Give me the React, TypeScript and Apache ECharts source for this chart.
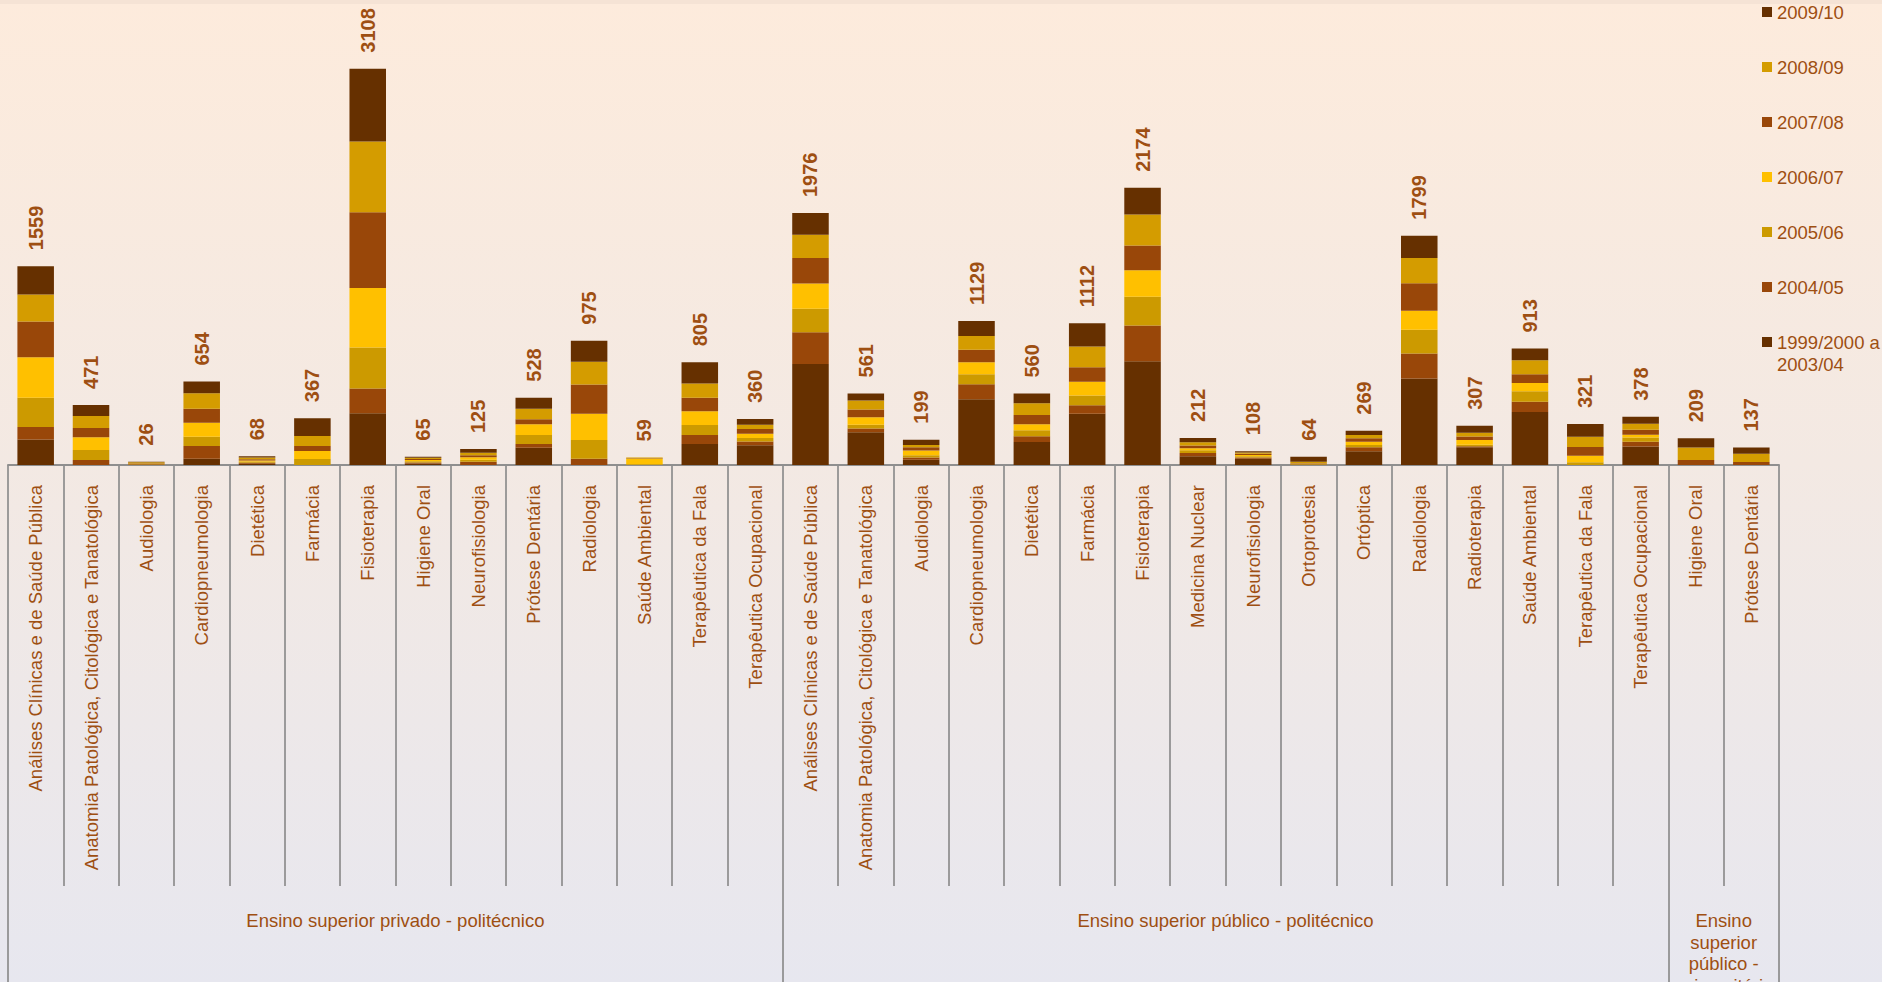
import React, { useEffect, useRef } from "react";
import * as echarts from "echarts";

const categories = [
  "Análises Clínicas e de Saúde Pública",
  "Anatomia Patológica, Citológica e Tanatológica",
  "Audiologia",
  "Cardiopneumologia",
  "Dietética",
  "Farmácia",
  "Fisioterapia",
  "Higiene Oral",
  "Neurofisiologia",
  "Prótese Dentária",
  "Radiologia",
  "Saúde Ambiental",
  "Terapêutica da Fala",
  "Terapêutica Ocupacional",
  "Análises Clínicas e de Saúde Pública",
  "Anatomia Patológica, Citológica e Tanatológica",
  "Audiologia",
  "Cardiopneumologia",
  "Dietética",
  "Farmácia",
  "Fisioterapia",
  "Medicina Nuclear",
  "Neurofisiologia",
  "Ortoprotesia",
  "Ortóptica",
  "Radiologia",
  "Radioterapia",
  "Saúde Ambiental",
  "Terapêutica da Fala",
  "Terapêutica Ocupacional",
  "Higiene Oral",
  "Prótese Dentária",
];

const groupNames = [
  "Ensino superior privado - politécnico",
  "Ensino superior público - politécnico",
  "Ensino superior público - universitário",
];
const groupSizes = [14, 16, 2];

const seriesNames = [
  "1999/2000 a 2003/04",
  "2004/05",
  "2005/06",
  "2006/07",
  "2007/08",
  "2008/09",
  "2009/10",
];

const v1999to2004 = [200, 0, 0, 50, 10, 0, 406, 12, 0, 135, 0, 0, 165, 154, 793, 257, 42, 515, 181, 401, 814, 68, 50, 0, 108, 679, 140, 416, 0, 145, 0, 0];
const v2004_05 = [99, 39, 0, 99, 8, 0, 194, 8, 26, 29, 50, 0, 71, 31, 249, 29, 16, 118, 44, 68, 280, 26, 8, 3, 31, 196, 8, 81, 0, 37, 0, 0];
const v2005_06 = [228, 79, 0, 73, 10, 47, 322, 10, 16, 71, 146, 5, 78, 26, 183, 29, 18, 78, 47, 76, 225, 21, 10, 3, 18, 186, 10, 81, 21, 34, 0, 0];
const v2006_07 = [319, 100, 4, 110, 8, 63, 466, 10, 18, 84, 206, 42, 107, 34, 199, 60, 37, 94, 47, 107, 209, 16, 10, 3, 26, 149, 39, 65, 52, 21, 0, 0];
const v2007_08 = [280, 73, 8, 110, 10, 39, 594, 8, 16, 39, 230, 4, 107, 37, 199, 60, 26, 99, 73, 115, 194, 21, 10, 5, 26, 215, 26, 68, 68, 39, 39, 24];
const v2008_09 = [212, 94, 10, 120, 12, 78, 555, 9, 20, 84, 178, 8, 112, 34, 183, 71, 18, 107, 92, 162, 243, 26, 10, 12, 26, 199, 29, 110, 81, 47, 99, 65];
const v2009_10 = [221, 86, 4, 92, 10, 140, 571, 8, 29, 86, 165, 0, 165, 44, 170, 55, 42, 118, 76, 183, 209, 34, 10, 38, 34, 175, 55, 92, 99, 55, 71, 48];

const totals = [1559, 471, 26, 654, 68, 367, 3108, 65, 125, 528, 975, 59, 805, 360, 1976, 561, 199, 1129, 560, 1112, 2174, 212, 108, 64, 269, 1799, 307, 913, 321, 378, 209, 137];

const seriesValues = [v1999to2004, v2004_05, v2005_06, v2006_07, v2007_08, v2008_09, v2009_10];
const seriesColors = ["#663000", "#994709", "#cc9a00", "#ffc000", "#994709", "#d49c00", "#663000"];

const TEXT = "#9e4f12";
const GRAY = "#8f8f8f";
const FONT = "'Liberation Sans', Arial, sans-serif";

function wrapText(text: string, maxChars: number): string {
  const words = text.split(" ");
  const lines: string[] = [];
  let cur = "";
  for (const w of words) {
    if (!cur) cur = w;
    else if ((cur + " " + w).length <= maxChars) cur += " " + w;
    else {
      lines.push(cur);
      cur = w;
    }
  }
  if (cur) lines.push(cur);
  return lines.join("\n");
}

function buildGroupAxis() {
  const total = groupSizes.reduce((a, b) => a + b, 0);
  const data: string[] = new Array(total + 1).fill("");
  const boundaries: number[] = [0];
  let start = 0;
  groupSizes.forEach((size, i) => {
    const center = start + size / 2;
    data[center] = wrapText(groupNames[i], size * 6);
    start += size;
    boundaries.push(start);
  });
  return { data, boundaries };
}

export default function App() {
  const ref = useRef<HTMLDivElement>(null);

  useEffect(() => {
    if (!ref.current) return;
    const chart = echarts.init(ref.current, null, { renderer: "svg" });
    const group = buildGroupAxis();

    const barSeries: any[] = seriesNames.map((name, i) => ({
      name,
      type: "bar",
      stack: "total",
      barWidth: "66%",
      xAxisIndex: 0,
      itemStyle: { color: seriesColors[i] },
      data: seriesValues[i],
    }));

    barSeries.push({
      name: "Total",
      type: "bar",
      stack: "total",
      barWidth: "66%",
      xAxisIndex: 0,
      itemStyle: { color: "transparent" },
      data: totals.map(() => 0),
      label: {
        show: true,
        position: "top",
        rotate: 90,
        align: "left",
        verticalAlign: "middle",
        distance: 16,
        fontSize: 20,
        fontWeight: "bold",
        color: TEXT,
        fontFamily: FONT,
        formatter: (p: any) => String(totals[p.dataIndex]),
      },
    });

    const legendText = {
      color: TEXT,
      fontSize: 18.5,
      fontFamily: FONT,
      lineHeight: 22,
    };
    const reversed = [...seriesNames].reverse();
    const lastName = reversed[reversed.length - 1];

    const option: any = {
      animation: false,
      backgroundColor: {
        type: "linear",
        x: 0,
        y: 0,
        x2: 0,
        y2: 1,
        colorStops: [
          { offset: 0, color: "#fdebdc" },
          { offset: 0.47, color: "#f3e9e3" },
          { offset: 1, color: "#e7e7ef" },
        ],
      },
      graphic: [
        {
          type: "rect",
          left: 0,
          top: 0,
          shape: { width: 1882, height: 4 },
          style: { fill: "#f5e3d5" },
          silent: true,
        },
      ],
      textStyle: { fontFamily: FONT },
      grid: {
        left: 8,
        right: 103,
        top: 6,
        bottom: 517,
        containLabel: false,
        outerBoundsMode: "none",
      },
      legend: [
        {
          orient: "vertical",
          left: 1762,
          top: 1,
          padding: 0,
          itemWidth: 10,
          itemHeight: 10,
          itemGap: 33,
          icon: "rect",
          data: reversed.slice(0, reversed.length - 1),
          textStyle: legendText,
        },
        {
          orient: "vertical",
          left: 1762,
          top: 309,
          padding: 0,
          itemWidth: 10,
          itemHeight: 10,
          icon: "rect",
          data: [lastName],
          formatter: (name: string) => "\n" + name.replace(" a ", " a\n"),
          textStyle: legendText,
        },
      ],
      xAxis: [
        {
          type: "category",
          data: categories,
          position: "bottom",
          axisLine: { show: true, lineStyle: { color: GRAY, width: 2 } },
          axisTick: { show: true, interval: 0, length: 421, lineStyle: { color: GRAY, width: 1.75 } },
          axisLabel: {
            interval: 0,
            rotate: 90,
            margin: 20,
            fontSize: 18.5,
            color: TEXT,
            fontFamily: FONT,
          },
          splitLine: { show: false },
        },
        {
          type: "category",
          data: group.data,
          boundaryGap: false,
          position: "bottom",
          offset: 421,
          axisLine: { show: false },
          axisTick: {
            show: true,
            length: 110,
            interval: (idx: number) => group.boundaries.includes(idx),
            lineStyle: { color: GRAY, width: 1.75 },
          },
          axisLabel: {
            interval: 0,
            margin: 24,
            fontSize: 18.5,
            lineHeight: 21.5,
            color: TEXT,
            fontFamily: FONT,
          },
          splitLine: { show: false },
        },
      ],
      yAxis: { type: "value", min: 0, max: 3600, show: false, splitLine: { show: false } },
      series: barSeries,
    };

    chart.setOption(option);
    return () => chart.dispose();
  }, []);

  return (
    <div
      ref={ref}
      style={{ position: "absolute", left: 0, top: 0, width: "1882px", height: "982px" }}
    />
  );
}
